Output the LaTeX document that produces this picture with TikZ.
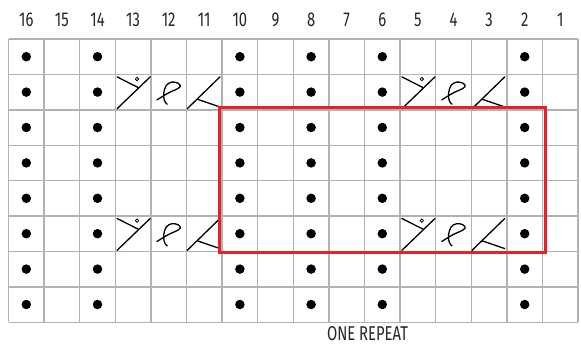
\documentclass[tikz,border=0pt]{standalone}
\usepackage{fontspec}
\setmainfont[FakeStretch=0.74]{Fira Sans}
\newcommand\cablesym[2]{%
  \begin{scope}[shift={(#1,#2)}, x=35.6pt, y=-35.4pt]
    \draw[cableline] (0.05,0.97) -- (0.98,0.07);
    \draw[cableline] (0.05,0.07) -- (0.64,0.37);
    \draw[line width=0.8pt] (0.61,0.13) circle[radius=1.7pt];
    \draw[cableline] plot[smooth, tension=0.75] coordinates {(1.17,0.72) (1.50,0.52) (1.76,0.40) (1.82,0.30) (1.68,0.22) (1.50,0.25) (1.39,0.40) (1.36,0.62) (1.40,0.78) (1.46,0.84)};
    \draw[cableline] (2.02,0.97) -- (2.94,0.07);
    \draw[cableline] (2.30,0.70) -- (2.94,0.92);
  \end{scope}}
\begin{document}
\begin{tikzpicture}[x=1pt,y=-1pt,
  gridline/.style={draw=black!30, line width=1.4pt},
  stitchdot/.style={circle, fill=black, inner sep=0pt, minimum size=9.5pt},
  cableline/.style={draw=black, line width=1.3pt, line cap=round},
  numlabel/.style={font=\fontsize{20}{20}\selectfont, text=black!85, inner sep=0pt},
  repeatbox/.style={draw={rgb,255:red,232;green,32;blue,42}, line width=3pt}]
\useasboundingbox (0,0) rectangle (581,345);
\def\X{8.5}\def\Y{39}\def\W{35.6}\def\H{35.4}
% grid
\foreach \i in {0,...,16} \draw[gridline] ({\X+\i*\W},\Y) -- ({\X+\i*\W},{\Y+8*\H});
\foreach \j in {0,...,8} \draw[gridline] (\X,{\Y+\j*\H}) -- ({\X+16*\W},{\Y+\j*\H});
% column numbers
\foreach \n [count=\k] in {16,15,...,1}
  \node[numlabel] (num\n) at ({\X+(\k-0.5)*\W},19.5) {\n};
% purl dots
\foreach \c in {16,14,10,8,6,2}
  \foreach \r in {1,...,8}
    \node[stitchdot] (dot\c-\r) at ({\X+(16.5-\c)*\W},{\Y+(\r-0.5)*\H}) {};
% cables
\cablesym{115.3}{74.4}
\cablesym{400.1}{74.4}
\cablesym{115.3}{216.0}
\cablesym{400.1}{216.0}
% repeat box
\draw[repeatbox] (219,107.5) rectangle (545.5,252);
\node[numlabel] (repeat) at (367.5,334) {ONE REPEAT};
\end{tikzpicture}
\end{document}
